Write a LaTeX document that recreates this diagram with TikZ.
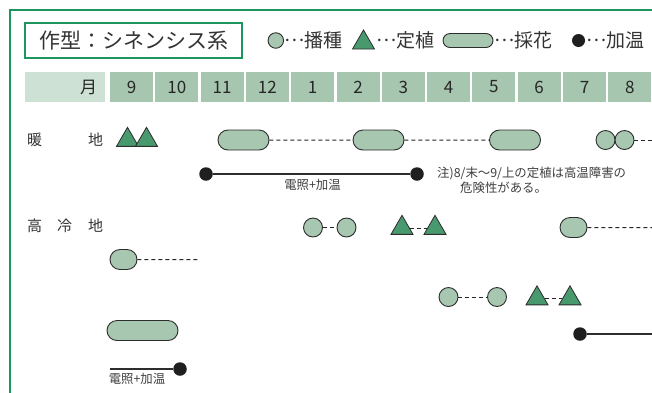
\documentclass[tikz,border=0pt]{standalone}
\usepackage{fontspec}
\setmainfont{Noto Sans CJK JP}
\usepackage{xcolor}
\usepackage{tikz}
\usetikzlibrary{shapes,positioning,calc}
\definecolor{framegreen}{RGB}{28, 150, 92}
\definecolor{monthgreen}{RGB}{167, 198, 175}
\definecolor{headgreen}{RGB}{206, 225, 213}
\definecolor{flowergreen}{RGB}{167, 199, 176}
\definecolor{plantgreen}{RGB}{73, 153, 110}
\definecolor{inkgray}{RGB}{45, 45, 45}
\newcommand{\midell}{\raisebox{0.32em}{…}}

\begin{document}
\begin{tikzpicture}[x=1pt, y=-1pt,
        sowing/.style={circle, draw=inkgray, fill=flowergreen, line width=0.9pt, inner sep=0pt, minimum size=19pt},
        planting/.style={regular polygon, regular polygon sides=3, draw=inkgray, fill=plantgreen, line width=0.8pt, inner sep=0pt, minimum size=25.4pt},
        harvest/.style={rounded rectangle, draw=inkgray, fill=flowergreen, line width=0.9pt, inner sep=0pt, minimum height=20pt},
        heating/.style={circle, fill=black!88, inner sep=0pt, minimum size=13.5pt},
        period/.style={draw=black!85, line width=1pt, dash pattern=on 4pt off 3pt},
        heatline/.style={draw=inkgray, line width=1.1pt},
        monthcell/.style={fill=monthgreen, minimum width=43pt, minimum height=30pt, inner sep=0pt, font=\fontsize{17}{17}\selectfont, text=black!85},
        legendtext/.style={anchor=west, inner sep=0pt, font=\fontsize{19}{19}\selectfont, text=black!80},
        regionlabel/.style={anchor=west, inner sep=0pt, font=\fontsize{15}{15}\selectfont, text=black!80},
        smalltext/.style={inner sep=0pt, font=\fontsize{12.4}{12.4}\selectfont, text=black!75}]
        \useasboundingbox (0,0) rectangle (652,392);
        \fill[white] (0,0) rectangle (652,392);

        % Outer frame (cut off at right and bottom)
        \draw[framegreen, line width=1.8pt] (10,395) -- (10,10) -- (655,10);

        % Title box
        \node[draw=framegreen, line width=1.8pt, minimum width=217pt, minimum height=35pt, inner sep=0pt,
              font=\fontsize{21}{21}\selectfont, text=black!80] (title) at (133.5,40.5) {作型：シネンシス系};

        % Legend
        \node[sowing, minimum size=15.5pt] (lgsow) at (275.8,40.5) {};
        \node[legendtext] (lgsowt) at (284,40.5) {\midell 播種};
        \node[planting] (lgplant) at (363.5,42.7) {};
        \node[legendtext] (lgplantt) at (376,40.5) {\midell 定植};
        \node[harvest, minimum width=50pt, minimum height=14pt] (lgharv) at (468,40.5) {};
        \node[legendtext] (lgharvt) at (494,40.5) {\midell 採花};
        \node[heating, minimum size=13pt] (lgheat) at (578.5,40.5) {};
        \node[legendtext] (lgheatt) at (586,40.5) {\midell 加温};

        % Month header
        \node[fill=headgreen, minimum height=30pt, inner xsep=8pt, inner ysep=0pt, text width=64pt, align=right,
              font=\fontsize{17}{17}\selectfont, text=black!85] (mhead) at (65,87) {月};
        \foreach \m [count=\i from 0] in {9,10,11,12,1,2,3,4,5,6,7,8} {
            \node[monthcell] (m\i) at ({131.5+45.3*\i},87) {\m};
        }

        % Warm region
        \node[regionlabel] (warm1) at (27,140) {暖};
        \node[regionlabel] (warm2) at (88,140) {地};
        \node[planting] (wt1) at (127.5,140) {};
        \node[planting] (wt2) at (146.5,140) {};
        \node[harvest, minimum width=51pt] (wp1) at (243.5,140) {};
        \node[harvest, minimum width=51pt] (wp2) at (378.5,140) {};
        \node[harvest, minimum width=51pt] (wp3) at (515,140) {};
        \node[sowing] (wc1) at (605.5,140) {};
        \node[sowing] (wc2) at (624.5,140) {};
        \coordinate (wend) at (652,140);
        \draw[period] (wp1) -- (wp2);
        \draw[period] (wp2) -- (wp3);
        \draw[period] (wc2) -- (wend);

        \node[heating] (wh1) at (206,174) {};
        \node[heating] (wh2) at (417,174) {};
        \draw[heatline] (wh1) -- (wh2);
        \node[smalltext] (whl) at (312.5,184.5) {電照+加温};
        \node[smalltext, anchor=west] (note1) at (437,173) {注)8/末〜9/上の定植は高温障害の};
        \node[smalltext, anchor=west] (note2) at (460,188) {危険性がある。};

        % Cool region
        \node[regionlabel] (cool1) at (27,226) {高};
        \node[regionlabel] (cool2) at (57,226) {冷};
        \node[regionlabel] (cool3) at (88,226) {地};
        \node[sowing] (kc1) at (313,227.5) {};
        \node[sowing] (kc2) at (346.5,227.5) {};
        \node[planting] (kt1) at (402,228) {};
        \node[planting] (kt2) at (435,228) {};
        \node[harvest, minimum width=27pt] (kp1) at (573.5,227.5) {};
        \coordinate (kend) at (652,227.5);
        \draw[period] (kc1) -- (kc2);
        \draw[period] (kt1) -- (kt2);
        \draw[period] (kp1) -- (kend);

        \node[harvest, minimum width=27pt] (sp1) at (123.5,259.5) {};
        \coordinate (send) at (198,259.5);
        \draw[period] (sp1) -- (send);

        \node[sowing] (lc1) at (448.5,297) {};
        \node[sowing] (lc2) at (497,297) {};
        \node[planting] (lt1) at (537,298.5) {};
        \node[planting] (lt2) at (570,298.5) {};
        \draw[period] (lc1) -- (lc2);
        \draw[period] (lt1) -- (lt2);

        \node[harvest, minimum width=71pt] (bp1) at (142.5,330.5) {};
        \node[heating] (bd1) at (580,334) {};
        \coordinate (bend) at (652,334);
        \draw[heatline] (bd1) -- (bend);

        \coordinate (bstart) at (110,369);
        \node[heating] (bd2) at (180,369) {};
        \draw[heatline] (bstart) -- (bd2);
        \node[smalltext] (bhl) at (137,379) {電照+加温};
    \end{tikzpicture}
\end{document}
